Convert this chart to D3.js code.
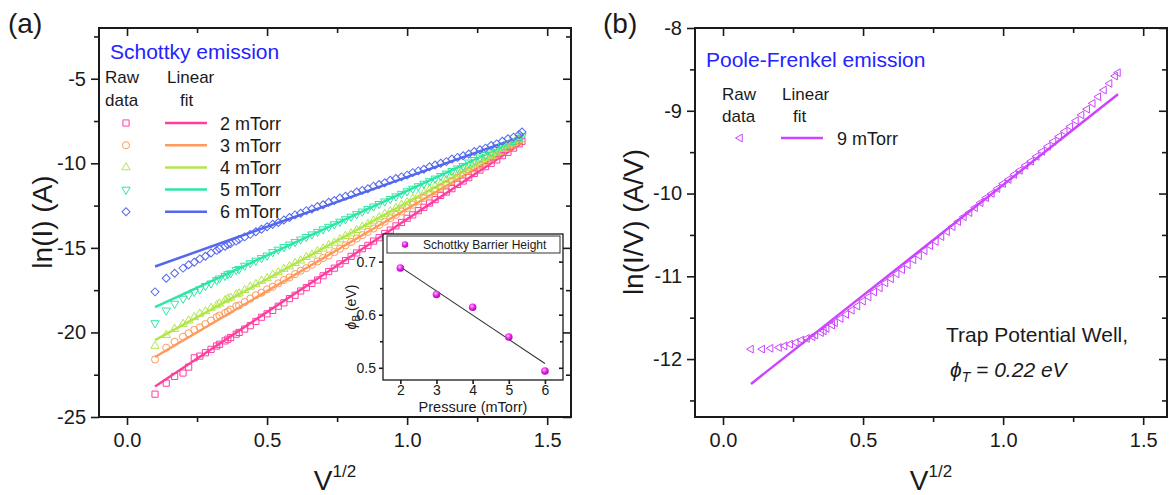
<!DOCTYPE html>
<html>
<head>
<meta charset="utf-8">
<script src="https://cdn.jsdelivr.net/npm/d3@7"></script>
<style>
  body { margin: 0; background: #fff; }
  svg { display: block; }
</style>
</head>
<body>
<svg id="chart" width="1175" height="495"></svg>
<script>
// ---- data ----
// sqrt of applied bias, shared by every raw data series
const sqrtV = [0.10, 0.14, 0.17, 0.20, 0.22, 0.24, 0.26, 0.28, 0.30, 0.32, 0.33, 0.35, 0.36, 0.37, 0.39, 0.40,
  0.42, 0.44, 0.46, 0.48, 0.50, 0.52, 0.54, 0.56, 0.58, 0.60,
  0.62, 0.64, 0.66, 0.68, 0.70, 0.72, 0.74, 0.76, 0.78, 0.80,
  0.82, 0.84, 0.86, 0.88, 0.90, 0.92, 0.94, 0.96, 0.98, 1.00,
  1.02, 1.04, 1.06, 1.08, 1.10, 1.12, 1.14, 1.16, 1.18, 1.20,
  1.22, 1.24, 1.26, 1.28, 1.30, 1.32, 1.34, 1.36, 1.38, 1.40, 1.41];

// Schottky: ln(I) raw data
const raw2mTorr = [-23.65, -23.0, -22.6, -22.4, -22.05, -21.5, -21.4, -21.2, -21.0, -20.8, -20.7, -20.5, -20.4, -20.3, -20.1, -20.0,
  -19.8, -19.6, -19.35, -19.1, -18.9, -18.7, -18.45, -18.25, -18.0, -17.8,
  -17.55, -17.35, -17.1, -16.9, -16.65, -16.4, -16.2, -15.95, -15.75, -15.5,
  -15.3, -15.05, -14.85, -14.6, -14.4, -14.15, -13.95, -13.7, -13.5, -13.25,
  -13.05, -12.8, -12.6, -12.35, -12.15, -11.9, -11.7, -11.5, -11.25, -11.05,
  -10.85, -10.6, -10.4, -10.2, -10.0, -9.8, -9.55, -9.35, -9.1, -8.85, -8.7];
const raw3mTorr = [-21.6, -20.9, -20.55, -20.25, -20.05, -19.85, -19.7, -19.5, -19.3, -19.1, -19.0, -18.85, -18.75, -18.65, -18.45, -18.4,
  -18.2, -18.0, -17.8, -17.65, -17.45, -17.3, -17.1, -16.9, -16.75, -16.55,
  -16.35, -16.2, -16.0, -15.8, -15.6, -15.45, -15.25, -15.05, -14.85, -14.65,
  -14.45, -14.25, -14.05, -13.85, -13.65, -13.45, -13.25, -13.05, -12.85, -12.65,
  -12.45, -12.25, -12.05, -11.85, -11.65, -11.45, -11.25, -11.05, -10.85, -10.65,
  -10.45, -10.3, -10.1, -9.9, -9.7, -9.5, -9.3, -9.1, -8.9, -8.7, -8.55];
const raw4mTorr = [-20.8, -20.15, -19.8, -19.5, -19.3, -19.1, -18.9, -18.75, -18.55, -18.4, -18.3, -18.1, -18.0, -17.95, -17.75, -17.7,
  -17.5, -17.3, -17.15, -16.95, -16.8, -16.6, -16.45, -16.25, -16.1, -15.9,
  -15.75, -15.55, -15.4, -15.2, -15.05, -14.85, -14.7, -14.5, -14.3, -14.15,
  -13.95, -13.75, -13.6, -13.4, -13.2, -13.0, -12.85, -12.65, -12.45, -12.3,
  -12.1, -11.9, -11.75, -11.55, -11.35, -11.2, -11.0, -10.8, -10.65, -10.45,
  -10.25, -10.1, -9.9, -9.7, -9.55, -9.35, -9.15, -8.95, -8.8, -8.6, -8.45];
const raw5mTorr = [-19.45, -18.7, -18.3, -18.0, -17.8, -17.6, -17.45, -17.25, -17.1, -16.9, -16.8, -16.65, -16.55, -16.5, -16.3, -16.25,
  -16.05, -15.9, -15.75, -15.6, -15.45, -15.25, -15.1, -14.95, -14.8, -14.65,
  -14.5, -14.35, -14.2, -14.05, -13.9, -13.75, -13.6, -13.45, -13.3, -13.15,
  -13.0, -12.85, -12.7, -12.55, -12.4, -12.25, -12.1, -11.95, -11.8, -11.65,
  -11.5, -11.35, -11.2, -11.05, -10.9, -10.75, -10.6, -10.45, -10.3, -10.15,
  -9.95, -9.8, -9.65, -9.5, -9.35, -9.2, -9.0, -8.85, -8.7, -8.5, -8.4];
const raw6mTorr = [-17.6, -16.8, -16.5, -16.2, -16.0, -15.85, -15.65, -15.5, -15.3, -15.15, -15.05, -14.9, -14.8, -14.75, -14.6, -14.5,
  -14.35, -14.2, -14.05, -13.9, -13.75, -13.6, -13.5, -13.35, -13.2, -13.05,
  -12.95, -12.8, -12.7, -12.55, -12.45, -12.3, -12.2, -12.05, -11.95, -11.85,
  -11.7, -11.6, -11.5, -11.35, -11.25, -11.15, -11.0, -10.9, -10.8, -10.7,
  -10.55, -10.45, -10.35, -10.2, -10.1, -10.0, -9.9, -9.75, -9.65, -9.55,
  -9.45, -9.3, -9.2, -9.1, -8.95, -8.85, -8.7, -8.55, -8.45, -8.3, -8.15];

// linear fits: ln(I) at the first and last sqrt(V)
const fitX = [0.10, 1.41];
const fit2mTorr = [-23.2, -8.79];
const fit3mTorr = [-21.45, -8.7];
const fit4mTorr = [-20.46, -8.6];
const fit5mTorr = [-18.5, -8.5];
const fit6mTorr = [-16.1, -8.4];

// Poole-Frenkel: ln(I/V) at 9 mTorr
const raw9mTorr = [-11.88, -11.88, -11.87, -11.86, -11.84, -11.82, -11.8, -11.77, -11.75, -11.73, -11.71, -11.68, -11.66, -11.63, -11.59, -11.56,
  -11.51, -11.46, -11.41, -11.36, -11.3, -11.25, -11.19, -11.14, -11.08, -11.03,
  -10.97, -10.92, -10.86, -10.8, -10.75, -10.69, -10.63, -10.58, -10.52, -10.46,
  -10.4, -10.34, -10.28, -10.23, -10.17, -10.11, -10.05, -10.0, -9.94, -9.88,
  -9.83, -9.77, -9.72, -9.66, -9.61, -9.55, -9.49, -9.43, -9.37, -9.31,
  -9.25, -9.19, -9.12, -9.05, -8.98, -8.91, -8.83, -8.75, -8.67, -8.58, -8.54];
const fit9mTorr = [-12.3, -8.8];

// inset: Schottky barrier height vs pressure
const pressure = [2, 3, 4, 5, 6];
const barrierHeight = [0.688, 0.638, 0.614, 0.558, 0.494];
const barrierFitX = [2, 6];
const barrierFit = [0.69, 0.508];

// tick values
const vTicks = [0, 0.5, 1.0, 1.5];
const vMinor = [0.25, 0.75, 1.25];
const lnITicks = [-25, -20, -15, -10, -5];
const lnIMinor = [-22.5, -17.5, -12.5, -7.5, -2.5];
const lnIVTicks = [-12, -11, -10, -9, -8];
const lnIVMinor = [-12.5, -11.5, -10.5, -9.5, -8.5];
const pressureTicks = [2, 3, 4, 5, 6];
const phiTicks = [0.5, 0.6, 0.7];
const phiMinor = [0.55, 0.65];

const schottkySeries = [
  { label: '2 mTorr', color: '#ff3fa0', marker: 'square', raw: raw2mTorr, fit: fit2mTorr },
  { label: '3 mTorr', color: '#ff9a5c', marker: 'circle', raw: raw3mTorr, fit: fit3mTorr },
  { label: '4 mTorr', color: '#b2e64e', marker: 'triUp', raw: raw4mTorr, fit: fit4mTorr },
  { label: '5 mTorr', color: '#2ee6a6', marker: 'triDown', raw: raw5mTorr, fit: fit5mTorr },
  { label: '6 mTorr', color: '#5468ee', marker: 'diamond', raw: raw6mTorr, fit: fit6mTorr },
];
const pfColor = '#cc44ff';

// ---- drawing ----
const FONT = 'Arial, "Liberation Sans", Helvetica, sans-serif';
const INK = '#1a1a1a';
const svg = d3.select('#chart').attr('font-family', FONT);

// symbol type, area, rotation
const markerBase = {
  square: [d3.symbolSquare, 38, 0],
  circle: [d3.symbolCircle, 40, 0],
  triUp: [d3.symbolTriangle, 30, 0],
  triDown: [d3.symbolTriangle, 30, 180],
  diamond: [d3.symbolSquare, 32, 45],
  triLeft: [d3.symbolTriangle, 26, -90],
};

function drawMarker(g, kind, cx, cy, color) {
  const [type, size, rot] = markerBase[kind];
  g.append('path')
    .attr('d', d3.symbol(type, size)())
    .attr('transform', `translate(${cx},${cy}) rotate(${rot})`)
    .attr('fill', 'none')
    .attr('stroke', color)
    .attr('stroke-width', 1);
}

function tickSet(g, axisFn, scale, values, size, pos, fmt, pad, fontSize) {
  const ax = axisFn(scale).tickValues(values).tickSize(size).tickPadding(pad || 3)
    .tickFormat(fmt || '');
  g.append('g')
    .attr('transform', pos)
    .call(ax)
    .call(s => s.select('.domain').remove())
    .attr('font-family', FONT)
    .attr('font-size', fontSize || 20)
    .style('color', INK)
    .call(s => s.selectAll('line').attr('stroke-width', 1.6));
}

function drawAxes(g, x, y, cfg) {
  const [xl, xr] = x.range();
  const [yb, yt] = y.range();
  const big = cfg.tick, small = cfg.minorTick;
  // bottom and left: outward ticks with labels
  tickSet(g, d3.axisBottom, x, cfg.xMinor, small, `translate(0,${yb})`);
  tickSet(g, d3.axisBottom, x, cfg.xMajor, big, `translate(0,${yb})`, cfg.xFormat, cfg.xPad, cfg.fontSize);
  tickSet(g, d3.axisLeft, y, cfg.yMinor, small, `translate(${xl},0)`);
  tickSet(g, d3.axisLeft, y, cfg.yMajor, big, `translate(${xl},0)`, cfg.yFormat, cfg.yPad, cfg.fontSize);
  // top and right: inward ticks only
  if (cfg.mirror) {
    tickSet(g, d3.axisTop, x, cfg.xMinor, -small, `translate(0,${yt})`);
    tickSet(g, d3.axisTop, x, cfg.xMajor, -big, `translate(0,${yt})`);
  }
  tickSet(g, d3.axisRight, y, cfg.yMinor, -small, `translate(${xr},0)`);
  tickSet(g, d3.axisRight, y, cfg.yMajor, -big, `translate(${xr},0)`);

  g.append('rect')
    .attr('x', xl).attr('y', yt)
    .attr('width', xr - xl).attr('height', yb - yt)
    .attr('fill', 'none')
    .attr('stroke', INK)
    .attr('stroke-width', cfg.frame);
}

function addText(g, x, y, str, size, opts) {
  const t = g.append('text')
    .attr('x', x).attr('y', y)
    .attr('font-size', size)
    .attr('fill', (opts && opts.color) || INK)
    .text(str);
  if (opts && opts.anchor) t.attr('text-anchor', opts.anchor);
  if (opts && opts.italic) t.attr('font-style', 'italic');
  return t;
}

function xTitle(g, cx) {
  const t = g.append('text')
    .attr('x', cx).attr('y', 490)
    .attr('text-anchor', 'middle')
    .attr('font-size', 28)
    .attr('fill', INK);
  t.append('tspan').text('V');
  t.append('tspan').attr('font-size', 17).attr('dy', -13).text('1/2');
}

function yTitle(g, x, cy, str) {
  g.append('text')
    .attr('transform', `translate(${x},${cy}) rotate(-90)`)
    .attr('text-anchor', 'middle')
    .attr('font-size', 28)
    .attr('fill', INK)
    .text(str);
}

const axisCfg = {
  tick: 8, minorTick: 5, frame: 2, fontSize: 20, mirror: true,
  xMajor: vTicks, xMinor: vMinor, xFormat: d => d.toFixed(1), xPad: 8, yPad: 5,
};

// ---------- panel (a): Schottky emission ----------
const xA = d3.scaleLinear().domain([-0.1, 1.585]).range([99, 571]);
const yA = d3.scaleLinear().domain([-25, -2]).range([417, 28]);
const gA = svg.append('g');

const fitLine = (x, y) => d3.line().x((d, i) => x(fitX[i])).y(d => y(d));

schottkySeries.forEach(s => {
  gA.append('path')
    .datum(s.fit)
    .attr('d', fitLine(xA, yA))
    .attr('stroke', s.color)
    .attr('stroke-width', 2.5)
    .attr('fill', 'none');
});
schottkySeries.forEach(s => {
  const mg = gA.append('g');
  s.raw.forEach((v, i) => drawMarker(mg, s.marker, xA(sqrtV[i]), yA(v), s.color));
});

drawAxes(gA, xA, yA, Object.assign({}, axisCfg, {
  yMajor: lnITicks, yMinor: lnIMinor, yFormat: d => String(d),
}));

addText(svg, 8, 33, '(a)', 28);
yTitle(svg, 52, 222, 'ln(I) (A)');
xTitle(svg, 335);

// legend (a)
addText(gA, 110, 59, 'Schottky emission', 21, { color: '#2323ff' });
addText(gA, 105, 83, 'Raw', 17);
addText(gA, 105, 106, 'data', 17);
addText(gA, 167, 83, 'Linear', 17);
addText(gA, 180, 106, 'fit', 17);
schottkySeries.forEach((s, i) => {
  const ry = 123 + i * 22.2;
  drawMarker(gA, s.marker, 126, ry, s.color);
  gA.append('line')
    .attr('x1', 165).attr('x2', 207)
    .attr('y1', ry).attr('y2', ry)
    .attr('stroke', s.color).attr('stroke-width', 2.5);
  addText(gA, 220, ry + 6.5, s.label, 18);
});

// inset: barrier height vs pressure
const xI = d3.scaleLinear().domain([1.52, 6.5]).range([383, 563]);
const yI = d3.scaleLinear().domain([0.477, 0.752]).range([380, 234]);
const gI = svg.append('g');
gI.append('rect')
  .attr('x', 383).attr('y', 234).attr('width', 180).attr('height', 146)
  .attr('fill', '#fff');

const defs = svg.append('defs');
const grad = defs.append('radialGradient').attr('id', 'ball').attr('cx', '40%').attr('cy', '35%').attr('r', '65%');
grad.append('stop').attr('offset', '0%').attr('stop-color', '#ffc8ff');
grad.append('stop').attr('offset', '45%').attr('stop-color', '#f030f0');
grad.append('stop').attr('offset', '100%').attr('stop-color', '#b000b8');

gI.append('path')
  .datum(barrierFit)
  .attr('d', d3.line().x((d, i) => xI(barrierFitX[i])).y(d => yI(d)))
  .attr('stroke', '#333')
  .attr('stroke-width', 1.1)
  .attr('fill', 'none');

gI.selectAll('circle.pt')
  .data(barrierHeight)
  .enter()
  .append('circle')
  .attr('class', 'pt')
  .attr('cx', (d, i) => xI(pressure[i]))
  .attr('cy', d => yI(d))
  .attr('r', 3.8)
  .attr('fill', 'url(#ball)');

drawAxes(gI, xI, yI, {
  tick: 4, minorTick: 3, frame: 1.3, fontSize: 14, mirror: false,
  xMajor: pressureTicks, xMinor: [], xFormat: d => String(d), xPad: 1,
  yMajor: phiTicks, yMinor: phiMinor, yFormat: d => d.toFixed(1), yPad: 3,
});

// inset legend box
gI.append('rect')
  .attr('x', 387).attr('y', 236).attr('width', 173).attr('height', 17)
  .attr('fill', '#fff').attr('stroke', '#333').attr('stroke-width', 1);
gI.append('circle').attr('cx', 405).attr('cy', 244.5).attr('r', 3.2).attr('fill', 'url(#ball)');
addText(gI, 423, 249, 'Schottky Barrier Height', 12);

addText(gI, 473, 412, 'Pressure (mTorr)', 14.5, { anchor: 'middle' });
const phiLabel = gI.append('text')
  .attr('transform', 'translate(356,307) rotate(-90)')
  .attr('text-anchor', 'middle')
  .attr('font-size', 14)
  .attr('fill', INK);
phiLabel.append('tspan').attr('font-style', 'italic').text('ϕ');
phiLabel.append('tspan').attr('font-size', 10).attr('dy', 4).text('B');
phiLabel.append('tspan').attr('dy', -4).text(' (eV)');

// ---------- panel (b): Poole-Frenkel emission ----------
const xB = d3.scaleLinear().domain([-0.1, 1.585]).range([695, 1167]);
const yB = d3.scaleLinear().domain([-12.7, -8]).range([417, 28]);
const gB = svg.append('g');

gB.append('path')
  .datum(fit9mTorr)
  .attr('d', fitLine(xB, yB))
  .attr('stroke', pfColor)
  .attr('stroke-width', 2.5)
  .attr('fill', 'none');
raw9mTorr.forEach((v, i) => drawMarker(gB, 'triLeft', xB(sqrtV[i]), yB(v), pfColor));

drawAxes(gB, xB, yB, Object.assign({}, axisCfg, {
  yMajor: lnIVTicks, yMinor: lnIVMinor, yFormat: d => String(d),
}));

addText(svg, 603, 33, '(b)', 28);
yTitle(svg, 643, 222, 'ln(I/V) (A/V)');
xTitle(svg, 931);

// legend (b)
addText(gB, 706, 67, 'Poole-Frenkel emission', 21, { color: '#2323ff' });
addText(gB, 722, 100, 'Raw', 17);
addText(gB, 722, 122, 'data', 17);
addText(gB, 782, 100, 'Linear', 17);
addText(gB, 793, 122, 'fit', 17);
drawMarker(gB, 'triLeft', 740, 138, pfColor);
gB.append('line')
  .attr('x1', 781).attr('x2', 823).attr('y1', 138).attr('y2', 138)
  .attr('stroke', pfColor).attr('stroke-width', 2.5);
addText(gB, 837, 144.5, '9 mTorr', 18);

// annotation
addText(gB, 946, 342, 'Trap Potential Well,', 21);
const phiT = gB.append('text')
  .attr('x', 950).attr('y', 377)
  .attr('font-size', 21)
  .attr('font-style', 'italic')
  .attr('fill', INK);
phiT.append('tspan').text('ϕ');
phiT.append('tspan').attr('font-size', 14).attr('dy', 5).text('T');
phiT.append('tspan').attr('dy', -5).text(' = 0.22 eV');
</script>
</body>
</html>
